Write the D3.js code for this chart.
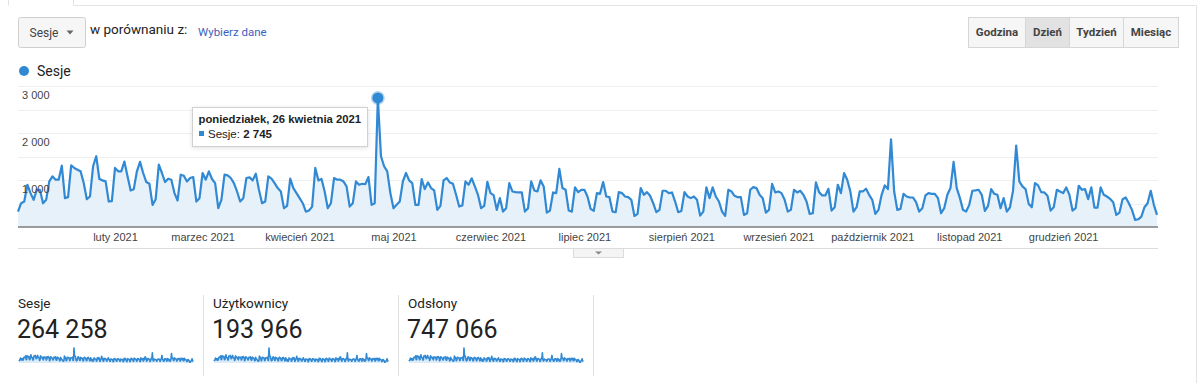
<!DOCTYPE html>
<html>
<head>
<meta charset="utf-8">
<script src="https://cdn.jsdelivr.net/npm/d3@7"></script>
<style>
body { margin: 0; background: #fff; }
svg { display: block; font-family: Roboto, Arial, sans-serif; }
</style>
</head>
<body>
<div id="chart"></div>
<script>
// daily sessions, 1 Jan 2021 .. 31 Dec 2021
var startDate = new Date(2021, 0, 1);
var sessions = [
328, 506, 542, 899, 721, 578, 792, 792, 506, 578,
970, 1078, 1006, 1006, 1306, 614, 635, 1313, 1256, 1220,
1185, 935, 592, 649, 1292, 1506, 1021, 992, 970, 542,
549, 1256, 1185, 1185, 1392, 1078, 778, 806, 1185, 1385,
1149, 956, 920, 471, 592, 1328, 1149, 956, 1028, 1006,
721, 564, 1113, 1092, 970, 1042, 1063, 542, 614,
1149, 1006, 1185, 1021, 935, 400, 578, 1113, 1099, 1042,
935, 756, 542, 614, 1042, 1056, 992, 1135, 792, 506,
542, 1078, 1028, 935, 828, 756, 400, 450, 1028, 828,
721, 614, 506, 328, 350, 435, 1256, 992, 1021, 756,
400, 506, 1042, 1006, 1006, 970, 863, 435, 506, 970,
899, 920, 913, 1063, 471, 506, 2745, 1506, 1292, 1185,
721, 400, 471, 542,
970, 1149, 992, 935, 471, 471, 1021, 806, 949, 828,
778, 364, 450, 992, 1042, 949, 920, 685, 435, 457,
970, 899, 1035, 863, 685, 400, 450, 963, 721, 678,
364, 614, 328, 400, 935, 756, 742, 735, 735, 328,
400, 970, 778, 756, 992, 863, 307, 350, 735, 721,
1235, 828, 792, 350, 328, 842, 742, 792, 792, 650,
385,
342, 721, 706, 956, 649, 635, 328, 314, 742, 721,
649, 635, 578, 235, 278, 828, 685, 742, 664, 506,
314, 364, 771, 771, 721, 735, 542, 314, 342, 742,
649, 614, 649, 578, 242, 328, 842, 614, 842, 649,
542, 328, 235, 792, 756, 664, 635, 635, 257, 292,
792, 849, 828, 685, 614, 307, 364, 920, 735, 756,
721, 578, 328, 364, 792, 735, 771, 685, 542, 278,
292, 949, 742, 671, 671, 813, 350, 421, 899, 721,
1149, 1006, 756, 328, 421, 756, 756, 813, 685, 578,
278, 364, 685, 885, 806, 1863, 756, 364, 385, 706,
649, 628, 628, 528, 328, 400, 671, 721, 706, 706,
614, 292, 400, 685, 828, 1385, 828, 620, 364, 328,
471, 771, 778, 792, 685, 342, 450, 806, 706, 685,
400, 614, 328, 414, 778, 1734, 970, 863, 806, 492,
421, 935, 885, 742, 735, 664, 350, 421, 792, 756,
721, 842, 685, 350, 400, 878, 792, 806, 592, 842,
414, 414, 842, 685, 649, 600, 528, 257, 307, 592,
628, 506, 364, 150, 164, 221, 421, 506, 771, 471,
257
];

var yTicks = [1000, 2000, 3000];
var monthLabels = ["luty 2021", "marzec 2021", "kwiecień 2021", "maj 2021", "czerwiec 2021",
  "lipiec 2021", "sierpień 2021", "wrzesień 2021", "październik 2021", "listopad 2021", "grudzień 2021"];
var monthStarts = d3.range(1, 12).map(function (m) { return new Date(2021, m, 1); });
var periods = ["Godzina", "Dzień", "Tydzień", "Miesiąc"];
var selectedPeriod = "Dzień";
var metricNames = ["Sesje", "Użytkownicy", "Odsłony"];
var metricTotals = [264258, 193966, 747066];
var hoverIndex = 115;

var pl = d3.formatLocale({ decimal: ",", thousands: " ", grouping: [3], currency: ["", " zł"] });
var fmt = pl.format(",d");

var blue = "#3189d4";
var W = 1200, H = 383;

var svg = d3.select("#chart").append("svg").attr("width", W).attr("height", H);

var data = sessions.map(function (v, i) {
  return { date: d3.timeDay.offset(startDate, i), value: v };
});

// frame / tabs
svg.append("path").attr("d", "M8.5,0V5.5M73.5,0V5.5H1196.5V383")
  .attr("fill", "none").attr("stroke", "#e3e3e3");

// metric dropdown
var dd = svg.append("g").attr("transform", "translate(18.5,17.5)");
dd.append("rect").attr("width", 67).attr("height", 30).attr("rx", 2)
  .attr("fill", "#f6f6f6").attr("stroke", "#cfcfcf");
dd.append("text").attr("x", 11).attr("y", 19).attr("font-size", 12).attr("fill", "#444").text("Sesje");
dd.append("path").attr("d", "M48,13h7l-3.5,4z").attr("fill", "#666");

svg.append("text").attr("x", 90).attr("y", 34).attr("font-size", 13.5).attr("fill", "#222").text("w porównaniu z:");
svg.append("text").attr("x", 198).attr("y", 36).attr("font-size", 11.5).attr("fill", "#3b5fc0").text("Wybierz dane");

// period buttons
var btnX = [968, 1025, 1069, 1123, 1178];
var bg = svg.append("g");
periods.forEach(function (p, i) {
  var sel = p === selectedPeriod;
  bg.append("rect").attr("x", btnX[i] + 0.5).attr("y", 17.5)
    .attr("width", btnX[i + 1] - btnX[i]).attr("height", 30)
    .attr("fill", sel ? "#e2e2e2" : "#f6f6f6").attr("stroke", "#d6d6d6");
  bg.append("text").attr("x", (btnX[i] + btnX[i + 1]) / 2 + 0.5).attr("y", 36)
    .attr("text-anchor", "middle").attr("font-size", 11.5).attr("font-weight", "bold")
    .attr("fill", "#444").text(p);
});

// legend
svg.append("circle").attr("cx", 24).attr("cy", 71).attr("r", 5).attr("fill", blue);
svg.append("text").attr("x", 37).attr("y", 76).attr("font-size", 14).attr("fill", "#222").text("Sesje");

// main chart
var x = d3.scaleTime().domain([startDate, new Date(2021, 11, 31)]).range([18, 1157]);
var y = d3.scaleLinear().domain([0, 3000]).range([227, 86]);

var grid = svg.append("g");
grid.selectAll("line").data(d3.range(500, 3001, 500)).enter().append("line")
  .attr("x1", 18).attr("x2", 1158)
  .attr("y1", function (d) { return Math.round(y(d)) + 0.5; })
  .attr("y2", function (d) { return Math.round(y(d)) + 0.5; })
  .attr("stroke", "#efefef");

var area = d3.area().x(function (d) { return x(d.date); }).y0(y(0)).y1(function (d) { return y(d.value); });
var line = d3.line().x(function (d) { return x(d.date); }).y(function (d) { return y(d.value); });

svg.append("path").datum(data).attr("d", area).attr("fill", "#e6f1fa");
svg.append("path").datum(data).attr("d", line).attr("fill", "none")
  .attr("stroke", blue).attr("stroke-width", 2.2).attr("stroke-linejoin", "round");

svg.append("g").selectAll("text").data(yTicks).enter().append("text")
  .attr("x", 22).attr("y", function (d) { return y(d) + 13; })
  .attr("font-family", "Arial, 'Liberation Sans', sans-serif")
  .attr("font-size", 11).attr("fill", "#444")
  .text(function (d) { return fmt(d); });

svg.append("line").attr("x1", 18).attr("x2", 1158).attr("y1", 227).attr("y2", 227)
  .attr("stroke", "#7d7d7d").attr("stroke-width", 1.5);

var xAxis = d3.axisBottom(x).tickValues(monthStarts).tickSize(0).tickPadding(0)
  .tickFormat(function (d, i) { return monthLabels[i]; });
var xg = svg.append("g").attr("transform", "translate(0,233)").call(xAxis);
xg.select(".domain").remove();
xg.selectAll("text").attr("font-family", "Arial, 'Liberation Sans', sans-serif")
  .attr("font-size", 11).attr("fill", "#444");

// hovered point
var hp = data[hoverIndex];
svg.append("circle").attr("cx", x(hp.date)).attr("cy", y(hp.value)).attr("r", 5.5)
  .attr("fill", blue).attr("stroke", "rgba(49,137,212,0.35)").attr("stroke-width", 3);

// tooltip
var tip = svg.append("g").attr("font-family", "Arial, 'Liberation Sans', sans-serif");
tip.append("rect").attr("x", 192.5).attr("y", 107.5).attr("width", 175).attr("height", 39)
  .attr("fill", "#fff").attr("stroke", "#d0d0d0").style("filter", "drop-shadow(0 1px 2px rgba(0,0,0,0.12))");
tip.append("text").attr("x", 198.5).attr("y", 123).attr("font-size", 11.3).attr("font-weight", "bold")
  .attr("fill", "#222").text("poniedziałek, 26 kwietnia 2021");
tip.append("rect").attr("x", 199).attr("y", 131).attr("width", 5).attr("height", 5).attr("fill", blue);
var t2 = tip.append("text").attr("x", 208).attr("y", 138).attr("font-size", 11.5).attr("fill", "#222");
t2.append("tspan").text("Sesje: ");
t2.append("tspan").attr("font-weight", "bold").text(fmt(hp.value));

// bottom separator with expand tab
svg.append("line").attr("x1", 18).attr("x2", 1158).attr("y1", 248.5).attr("y2", 248.5).attr("stroke", "#dcdcdc");
svg.append("rect").attr("x", 573.5).attr("y", 248.5).attr("width", 50).attr("height", 9)
  .attr("fill", "#f4f4f4").attr("stroke", "#dcdcdc");
svg.append("path").attr("d", "M595,251.5h7l-3.5,3z").attr("fill", "#888");

// scorecards
var sx = d3.scaleTime().domain([startDate, new Date(2021, 11, 31)]).range([1, 175]);
var sy = d3.scaleLinear().domain([0, d3.max(sessions)]).range([363, 348]);
var sArea = d3.area().x(function (d) { return sx(d.date); }).y0(363).y1(function (d) { return sy(d.value); });
var sLine = d3.line().x(function (d) { return sx(d.date); }).y(function (d) { return sy(d.value); });

metricNames.forEach(function (name, i) {
  var g = svg.append("g").attr("transform", "translate(" + (18 + i * 195) + ",0)");
  g.append("text").attr("x", 0).attr("y", 308).attr("font-size", 13.5).attr("fill", "#222").text(name);
  g.append("text").attr("x", -1).attr("y", 338).attr("font-size", 25).attr("fill", "#222").text(fmt(metricTotals[i]));
  // sparkline shape (same daily profile as the main chart)
  g.append("path").datum(data).attr("d", sArea).attr("fill", "#dcebf8");
  g.append("path").datum(data).attr("d", sLine).attr("fill", "none").attr("stroke", blue)
    .attr("stroke-width", 1.6).attr("stroke-linejoin", "round");
  svg.append("line").attr("x1", 203.5 + i * 195).attr("x2", 203.5 + i * 195)
    .attr("y1", 295).attr("y2", 376).attr("stroke", "#e0e0e0");
});
</script>
</body>
</html>
